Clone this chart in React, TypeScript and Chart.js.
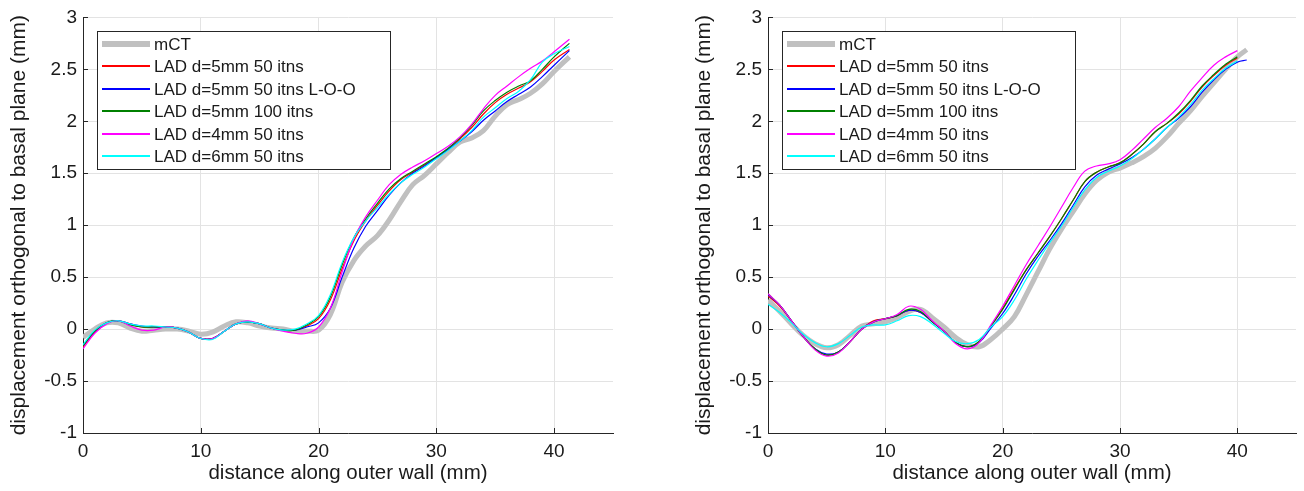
import { useEffect, useRef } from 'react';
import { Chart, registerables } from 'chart.js';

Chart.register(...registerables);

const FONT = '"Liberation Sans", Arial, Helvetica, sans-serif';
const TEXT = '#1a1a1a';
const AXIS = '#262626';
const GRID = '#e3e3e3';

const legendLabels = [
  'mCT',
  'LAD d=5mm 50 itns',
  'LAD d=5mm 50 itns L-O-O',
  'LAD d=5mm 100 itns',
  'LAD d=4mm 50 itns',
  'LAD d=6mm 50 itns',
];
const seriesColors = ['#c0c0c0', '#ff0000', '#0000ff', '#008000', '#ff00ff', '#00ffff'];
const seriesWidths = [5, 1.2, 1.2, 1.2, 1.2, 1.2];
const legendLineWidths = [6, 2, 2, 2, 2, 2];
const seriesOrder = [6, 5, 4, 3, 2, 1];

const xTicks = [0, 10, 20, 30, 40];
const yTicks = [-1, -0.5, 0, 0.5, 1, 1.5, 2, 2.5, 3];
const xTitle = 'distance along outer wall (mm)';
const yTitle = 'displacement orthogonal to basal plane (mm)';

// ---- Left panel ----
const leftX = [0, 1, 2, 3, 4, 5, 6, 7, 8, 9, 10, 11, 12, 13, 14, 15, 16, 17, 18, 19, 20, 21, 22, 23, 24, 25, 26, 27, 28, 29, 30, 31, 32, 33, 34, 35, 36, 37, 38, 39, 40, 41.3];
const leftMCT = [-0.08, 0.0, 0.06, 0.06, 0.01, -0.02, -0.01, 0.0, 0.0, -0.02, -0.05, -0.03, 0.03, 0.07, 0.06, 0.03, 0.01, 0.0, -0.02, -0.02, -0.01, 0.14, 0.45, 0.66, 0.8, 0.9, 1.05, 1.23, 1.39, 1.48, 1.59, 1.7, 1.8, 1.84, 1.91, 2.05, 2.16, 2.21, 2.27, 2.36, 2.48, 2.62];
const leftRed = [-0.17, -0.03, 0.06, 0.08, 0.05, 0.02, 0.02, 0.02, 0.01, -0.03, -0.09, -0.09, -0.02, 0.05, 0.07, 0.05, 0.01, -0.01, -0.01, 0.03, 0.1, 0.28, 0.58, 0.85, 1.04, 1.19, 1.33, 1.44, 1.51, 1.58, 1.65, 1.73, 1.83, 1.94, 2.07, 2.18, 2.26, 2.32, 2.38, 2.48, 2.59, 2.69];
const leftBlue = [-0.16, -0.02, 0.06, 0.08, 0.05, 0.03, 0.02, 0.02, 0.01, -0.03, -0.09, -0.09, -0.02, 0.05, 0.07, 0.05, 0.01, -0.01, -0.01, 0.02, 0.06, 0.2, 0.5, 0.78, 0.99, 1.14, 1.29, 1.41, 1.5, 1.57, 1.65, 1.73, 1.81, 1.9, 2.01, 2.1, 2.19, 2.26, 2.33, 2.43, 2.54, 2.68];
const leftGreen = [-0.16, -0.02, 0.06, 0.08, 0.04, 0.02, 0.02, 0.02, 0.01, -0.03, -0.09, -0.09, -0.02, 0.05, 0.07, 0.05, 0.01, -0.01, -0.01, 0.04, 0.12, 0.31, 0.62, 0.88, 1.06, 1.21, 1.35, 1.45, 1.52, 1.59, 1.66, 1.74, 1.84, 1.96, 2.1, 2.2, 2.28, 2.34, 2.39, 2.5, 2.62, 2.75];
const leftMagenta = [-0.19, -0.04, 0.05, 0.08, 0.03, -0.01, -0.01, 0.02, 0.01, -0.03, -0.09, -0.09, -0.02, 0.05, 0.08, 0.05, 0.01, -0.02, -0.04, -0.04, 0.02, 0.2, 0.55, 0.87, 1.08, 1.24, 1.39, 1.49, 1.56, 1.62, 1.69, 1.76, 1.85, 1.97, 2.12, 2.25, 2.34, 2.43, 2.51, 2.58, 2.67, 2.79];
const leftCyan = [-0.15, -0.01, 0.06, 0.08, 0.05, 0.03, 0.03, 0.02, 0.01, -0.03, -0.09, -0.1, -0.02, 0.05, 0.07, 0.05, 0.01, -0.01, 0.0, 0.05, 0.13, 0.33, 0.64, 0.88, 1.04, 1.17, 1.3, 1.41, 1.49, 1.56, 1.64, 1.72, 1.81, 1.91, 2.04, 2.13, 2.22, 2.29, 2.4, 2.57, 2.65, 2.72];

// ---- Right panel ----
const rightX = [0, 1, 2, 3, 4, 5, 6, 7, 8, 9, 10, 11, 12, 13, 14, 15, 16, 17, 18, 19, 20, 21, 22, 23, 24, 25, 26, 27, 28, 29, 30, 31, 32, 33, 34, 35, 36, 37, 38, 39, 40, 40.8];
const rightMCT = [0.28, 0.17, 0.05, -0.06, -0.14, -0.18, -0.15, -0.06, 0.03, 0.05, 0.07, 0.11, 0.17, 0.19, 0.11, 0.02, -0.08, -0.15, -0.17, -0.1, 0.0, 0.12, 0.33, 0.55, 0.77, 0.96, 1.13, 1.3, 1.43, 1.51, 1.55, 1.6, 1.66, 1.74, 1.85, 1.98, 2.1, 2.24, 2.37, 2.5, 2.62, 2.69];
const rightRed = [0.32, 0.22, 0.08, -0.07, -0.19, -0.25, -0.22, -0.12, 0.0, 0.08, 0.1, 0.13, 0.18, 0.16, 0.07, -0.02, -0.13, -0.17, -0.12, 0.03, 0.2, 0.39, 0.57, 0.73, 0.89, 1.06, 1.24, 1.42, 1.51, 1.56, 1.6, 1.68, 1.78, 1.9, 1.98, 2.07, 2.19, 2.33, 2.44, 2.54, 2.61, null];
const rightBlue = [0.33, 0.23, 0.08, -0.07, -0.19, -0.24, -0.22, -0.12, 0.0, 0.07, 0.1, 0.13, 0.18, 0.16, 0.07, -0.02, -0.13, -0.17, -0.13, 0.01, 0.15, 0.33, 0.53, 0.7, 0.85, 1.01, 1.19, 1.37, 1.48, 1.54, 1.59, 1.65, 1.73, 1.83, 1.94, 2.03, 2.14, 2.28, 2.4, 2.5, 2.57, 2.59];
const rightGreen = [0.34, 0.23, 0.08, -0.07, -0.19, -0.25, -0.22, -0.12, 0.0, 0.07, 0.1, 0.13, 0.19, 0.17, 0.07, -0.02, -0.13, -0.17, -0.12, 0.03, 0.19, 0.38, 0.57, 0.73, 0.89, 1.06, 1.24, 1.42, 1.51, 1.56, 1.6, 1.68, 1.78, 1.9, 1.98, 2.08, 2.2, 2.34, 2.45, 2.55, 2.62, null];
const rightMagenta = [0.34, 0.23, 0.08, -0.07, -0.2, -0.26, -0.23, -0.12, 0.0, 0.07, 0.1, 0.14, 0.22, 0.19, 0.08, -0.02, -0.14, -0.19, -0.13, 0.04, 0.22, 0.42, 0.62, 0.8, 0.98, 1.17, 1.36, 1.52, 1.57, 1.59, 1.63, 1.72, 1.83, 1.94, 2.03, 2.14, 2.29, 2.42, 2.54, 2.62, 2.68, null];
const rightCyan = [0.24, 0.16, 0.06, -0.05, -0.13, -0.17, -0.14, -0.06, 0.02, 0.04, 0.04, 0.08, 0.13, 0.12, 0.05, -0.04, -0.12, -0.14, -0.1, 0.02, 0.12, 0.28, 0.48, 0.66, 0.83, 0.99, 1.17, 1.34, 1.46, 1.52, 1.57, 1.64, 1.73, 1.83, 1.94, 2.04, 2.16, 2.3, 2.41, 2.51, 2.58, null];

const decorPlugin = {
  id: 'decor',
  afterDatasetsDraw(chart: any) {
    const ctx = chart.ctx as CanvasRenderingContext2D;
    const { left, top, bottom } = chart.chartArea;
    const xs = chart.scales.x;
    const ys = chart.scales.y;
    ctx.save();
    // inward tick marks
    ctx.strokeStyle = AXIS;
    ctx.lineWidth = 1;
    ctx.beginPath();
    xTicks.forEach((v) => {
      const p = Math.round(xs.getPixelForValue(v)) + 0.5;
      ctx.moveTo(p, bottom);
      ctx.lineTo(p, bottom - 5);
    });
    yTicks.forEach((v) => {
      const p = Math.round(ys.getPixelForValue(v)) + 0.5;
      ctx.moveTo(left, p);
      ctx.lineTo(left + 5, p);
    });
    ctx.stroke();
    // legend box
    const bx = Math.round(left + 14);
    const by = Math.round(top + 14);
    const bw = 293;
    const bh = 138;
    ctx.fillStyle = '#ffffff';
    ctx.fillRect(bx, by, bw, bh);
    ctx.strokeStyle = AXIS;
    ctx.lineWidth = 1;
    ctx.strokeRect(bx + 0.5, by + 0.5, bw, bh);
    chart.data.datasets.forEach((ds: any, i: number) => {
      const ry = Math.round(by + 12.5 + i * 22.5);
      ctx.strokeStyle = ds.borderColor;
      ctx.lineWidth = legendLineWidths[i];
      ctx.beginPath();
      ctx.moveTo(bx + 5, ry);
      ctx.lineTo(bx + 53, ry);
      ctx.stroke();
      ctx.fillStyle = TEXT;
      ctx.font = `17px ${FONT}`;
      ctx.textBaseline = 'middle';
      ctx.textAlign = 'left';
      ctx.fillText(ds.label, bx + 57, ry + 1);
    });
    ctx.restore();
  },
};

function makeConfig(xs: number[], series: (number | null)[][], padRight: number): any {
  return {
    type: 'line',
    data: {
      datasets: series.map((ys, i) => ({
        label: legendLabels[i],
        data: xs.map((x, j) => ({ x, y: ys[j] })),
        borderColor: seriesColors[i],
        backgroundColor: seriesColors[i],
        borderWidth: seriesWidths[i],
        order: seriesOrder[i],
        pointRadius: 0,
        tension: 0.4,
        fill: false,
        spanGaps: false,
      })),
    },
    options: {
      animation: false,
      responsive: false,
      layout: { padding: { top: 17, right: padRight, left: 0, bottom: 0 } },
      plugins: { legend: { display: false }, tooltip: { enabled: false } },
      scales: {
        x: {
          type: 'linear',
          min: 0,
          max: 45,
          afterBuildTicks: (s: any) => {
            s.ticks = xTicks.map((v) => ({ value: v }));
          },
          afterFit: (s: any) => {
            s.height = 58;
          },
          ticks: {
            autoSkip: false,
            maxRotation: 0,
            padding: 7,
            color: TEXT,
            font: { family: FONT, size: 19 },
            callback: (v: any) => String(v),
          },
          grid: { color: GRID, lineWidth: 1, drawTicks: false },
          border: { color: AXIS, width: 1 },
          title: {
            display: true,
            text: xTitle,
            color: TEXT,
            font: { family: FONT, size: 20.5 },
            padding: { top: 0, bottom: 5 },
          },
        },
        y: {
          type: 'linear',
          min: -1,
          max: 3,
          afterBuildTicks: (s: any) => {
            s.ticks = yTicks.map((v) => ({ value: v }));
          },
          afterFit: (s: any) => {
            s.width = 83;
          },
          ticks: {
            autoSkip: false,
            padding: 6,
            color: TEXT,
            font: { family: FONT, size: 19 },
            callback: (v: any) => String(v),
          },
          grid: { color: GRID, lineWidth: 1, drawTicks: false },
          border: { color: AXIS, width: 1 },
          title: {
            display: true,
            text: yTitle,
            color: TEXT,
            font: { family: FONT, size: 21 },
            padding: { top: 7, bottom: 0 },
          },
        },
      },
    },
    plugins: [decorPlugin],
  };
}

function Panel(props: { xs: number[]; series: (number | null)[][]; left: number; width: number; padRight: number }) {
  const ref = useRef<HTMLCanvasElement | null>(null);
  useEffect(() => {
    if (!ref.current) return;
    const chart = new Chart(ref.current, makeConfig(props.xs, props.series, props.padRight));
    return () => chart.destroy();
  }, []);
  return (
    <div style={{ position: 'absolute', left: props.left, top: 0, width: props.width, height: 491 }}>
      <canvas ref={ref} width={props.width} height={491} style={{ display: 'block' }} />
    </div>
  );
}

export default function App() {
  return (
    <div style={{ position: 'fixed', left: 0, top: 0, width: 1304, height: 491, background: '#fff', overflow: 'hidden' }}>
      <Panel
        xs={leftX}
        series={[leftMCT, leftRed, leftBlue, leftGreen, leftMagenta, leftCyan]}
        left={0}
        width={652}
        padRight={39}
      />
      <Panel
        xs={rightX}
        series={[rightMCT, rightRed, rightBlue, rightGreen, rightMagenta, rightCyan]}
        left={685}
        width={619}
        padRight={8}
      />
    </div>
  );
}
